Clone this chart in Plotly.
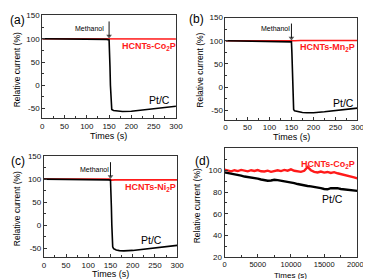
import plotly.graph_objects as go

# ---------------- data ----------------
# panel (a)
a_pt_t = [0, 50, 100, 130, 145, 150, 151, 152, 153, 154, 155, 156, 160, 170, 180, 200, 225, 250, 275, 300]
a_pt_y = [100, 100, 99.5, 99, 98.5, 97.5, 80, 40, 0, -30, -48, -52, -54, -55, -56, -55.5, -53, -50, -47.5, -45]
a_co_t = [0, 100, 150, 152, 160, 200, 250, 300]
a_co_y = [100, 100, 100, 99.5, 99.5, 99.5, 99.5, 99.5]

# panel (b)
b_pt_t = [0, 50, 100, 130, 145, 150, 151, 152, 153, 154, 155, 157, 165, 175, 185, 200, 225, 250, 275, 300]
b_pt_y = [100, 99.5, 99, 98.5, 98, 97.5, 75, 30, -10, -35, -48, -51, -53, -54.5, -55, -55, -53, -50, -47.5, -45]
b_mn_t = [0, 100, 148, 152, 158, 170, 200, 250, 300]
b_mn_y = [100, 100, 100, 98.5, 100, 100.5, 100.5, 100.5, 100.5]

# panel (c)
c_pt_t = [0, 50, 100, 130, 145, 150, 151, 152, 153, 154, 155, 157, 163, 170, 180, 200, 225, 250, 275, 300]
c_pt_y = [100, 100, 99.5, 99, 98.5, 98, 80, 40, 0, -30, -47, -51, -54, -55.5, -56, -55, -52.5, -50, -47, -44]
c_ni_t = [0, 100, 148, 152, 160, 200, 250, 300]
c_ni_y = [100.5, 100, 100, 98, 98.5, 98.5, 98.5, 98.5]

# panel (d)
d_t = [0, 500, 1000, 1500, 2000, 2500, 3000, 3500, 4000, 4500, 5000, 5500, 6000, 6500,
       7000, 7500, 8000, 8500, 9000, 9500, 10000, 10500, 11000, 11500, 12000, 12500,
       13000, 13500, 14000, 14500, 15000, 15500, 16000, 16500, 17000, 17500, 18000,
       18500, 19000, 19500, 20000]
d_co_y = [100.5, 99.5, 99, 100, 99.2, 100.3, 99.5, 99, 100, 99.3, 100.2, 99, 98.8, 99.6,
          98.5, 99.4, 100, 99.2, 100.3, 99.6, 100.8, 99.5, 99, 98.5, 99.5, 103, 100,
          98.5, 98, 98.8, 97.8, 98.4, 97.5, 98.2, 97.2, 96.5, 95.8, 95.5, 94.3, 93.5, 92.5]
d_pt_y = [98, 97.5, 96.8, 96.5, 95.5, 95, 94.2, 93.8, 93.2, 92.8, 92.3, 91.5, 90.8, 90.3,
          90.6, 91.2, 90.9, 90.4, 90.1, 89.5, 89.3, 88.2, 87.3, 86.5, 85.8, 85.5, 85.2,
          84.8, 84.3, 83.5, 82.8, 82.5, 83.5, 83.8, 83.5, 82.8, 82.3, 82, 81.6, 81.2, 81]

x_ticks_abc = [0, 50, 100, 150, 200, 250, 300]
y_ticks_abc = [-50, 0, 50, 100, 150]
x_ticks_d = [0, 5000, 10000, 15000, 20000]
y_ticks_d = [20, 40, 60, 80, 100]

# methanol injection marker (time, arrow top, arrow tip)
inj_t = [150, 150]
inj_y = [137, 106]

RED = "#ff1a1a"
BLACK = "#000000"
FONT = "Liberation Sans"

fig = go.Figure()

def add(t, y, color, xa, ya, w=1.6):
    fig.add_trace(go.Scatter(x=t, y=y, mode="lines", line=dict(color=color, width=w),
                             xaxis=xa, yaxis=ya, showlegend=False, hoverinfo="skip"))

add(a_co_t, a_co_y, RED, "x", "y")
add(a_pt_t, a_pt_y, BLACK, "x", "y")
add(b_mn_t, b_mn_y, RED, "x2", "y2")
add(b_pt_t, b_pt_y, BLACK, "x2", "y2")
add(c_ni_t, c_ni_y, RED, "x3", "y3")
add(c_pt_t, c_pt_y, BLACK, "x3", "y3")
add(d_t, d_co_y, RED, "x4", "y4", 2.4)
add(d_t, d_pt_y, BLACK, "x4", "y4", 2.4)

# arrows
for xa, ya in [("x", "y"), ("x2", "y2"), ("x3", "y3")]:
    fig.add_trace(go.Scatter(x=inj_t, y=inj_y, mode="lines+markers",
                             line=dict(color="#111", width=1),
                             marker=dict(symbol=["circle", "triangle-down"], size=[0.1, 5],
                                         color="#111", line=dict(width=0)),
                             xaxis=xa, yaxis=ya, showlegend=False, hoverinfo="skip",
                             cliponaxis=False))

def axis(domain, rng, ticks, minor_dtick, anchor, fs=8):
    return dict(domain=domain, range=rng, tickvals=ticks, ticktext=[str(v) for v in ticks],
                ticks="inside", ticklen=3,
                tickcolor="#333", showline=True, linecolor="#333", linewidth=1,
                mirror=True, showgrid=False, zeroline=False, anchor=anchor,
                tickfont=dict(family=FONT, size=fs, color="#111"),
                minor=dict(ticks="inside", ticklen=2, dtick=minor_dtick, tickcolor="#333", showgrid=False))

W, H = 371, 279
def dx(a, b):
    return [a / W, b / W]
def dy(top, bottom):
    return [1 - bottom / H, 1 - top / H]

fig.update_layout(
    width=W, height=H, autosize=False,
    margin=dict(l=0, r=0, t=0, b=0),
    paper_bgcolor="white", plot_bgcolor="white",
    xaxis=axis(dx(33.3, 171.5), [0, 300], x_ticks_abc, 25, "y"),
    yaxis=axis(dy(3.5, 109.5), [-70, 150], y_ticks_abc, 25, "x"),
    xaxis2=axis(dx(222.7, 359), [0, 300], x_ticks_abc, 25, "y2"),
    yaxis2=axis(dy(5.7, 111.3), [-70, 150], y_ticks_abc, 25, "x2"),
    xaxis3=axis(dx(35, 172.7), [0, 300], x_ticks_abc, 25, "y3"),
    yaxis3=axis(dy(149, 253.5), [-70, 150], y_ticks_abc, 25, "x3"),
    xaxis4=axis(dx(221.7, 359), [0, 20000], x_ticks_d, 2500, "y4", fs=7.5),
    yaxis4=axis(dy(141, 253.5), [20, 120], y_ticks_d, 10, "x4"),
)

ann = []
def txt(x, y, s, size, color=BLACK, xref="paper", yref="paper", angle=0, bold=False):
    ann.append(dict(x=x, y=y, xref=xref, yref=yref, text=("<b>%s</b>" % s) if bold else s,
                    showarrow=False, textangle=angle,
                    font=dict(family=FONT, size=size, color=color),
                    xanchor="center", yanchor="middle"))

# panel labels
txt(8 / W, 1 - 8 / H, "(a)", 12)
txt(193 / W, 1 - 7.5 / H, "(b)", 12)
txt(8 / W, 1 - 154 / H, "(c)", 12)
txt(199 / W, 1 - 154 / H, "(d)", 12)

# axis titles
for (xc, yc, xt, xty, fs) in [(7.5, 60, 102, 128.5, 9), (196, 60, 291, 129.5, 9),
                              (8, 203, 104, 270.5, 9), (193, 200, 290, 272, 8)]:
    txt(xc / W, 1 - yc / H, "Relative current (%)", 8.5, angle=-90)
    txt(xt / W, 1 - xty / H, "Times (s)", fs)

# in-plot labels
for (xr, yr, mx, my, lx, ly, lab, px, py) in [
        ("x", "y", 106, 122, 240, 84, "HCNTs-Co<sub>2</sub>P", 262, -32),
        ("x2", "y2", 113, 127, 233, 86, "HCNTs-Mn<sub>2</sub>P", 268, -34),
        ("x3", "y3", 114, 121, 240, 81, "HCNTs-Ni<sub>2</sub>P", 243, -33)]:
    txt(mx, my, "Methanol", 7, xref=xr, yref=yr)
    txt(lx, ly, lab, 9, color=RED, xref=xr, yref=yr, bold=True)
    txt(px, py, "Pt/C", 10.5, xref=xr, yref=yr)

txt(15600, 105.5, "HCNTs-Co<sub>2</sub>P", 9, color=RED, xref="x4", yref="y4", bold=True)
txt(16300, 74, "Pt/C", 10.5, xref="x4", yref="y4")

fig.update_layout(annotations=ann)
fig.write_html("out.html")
